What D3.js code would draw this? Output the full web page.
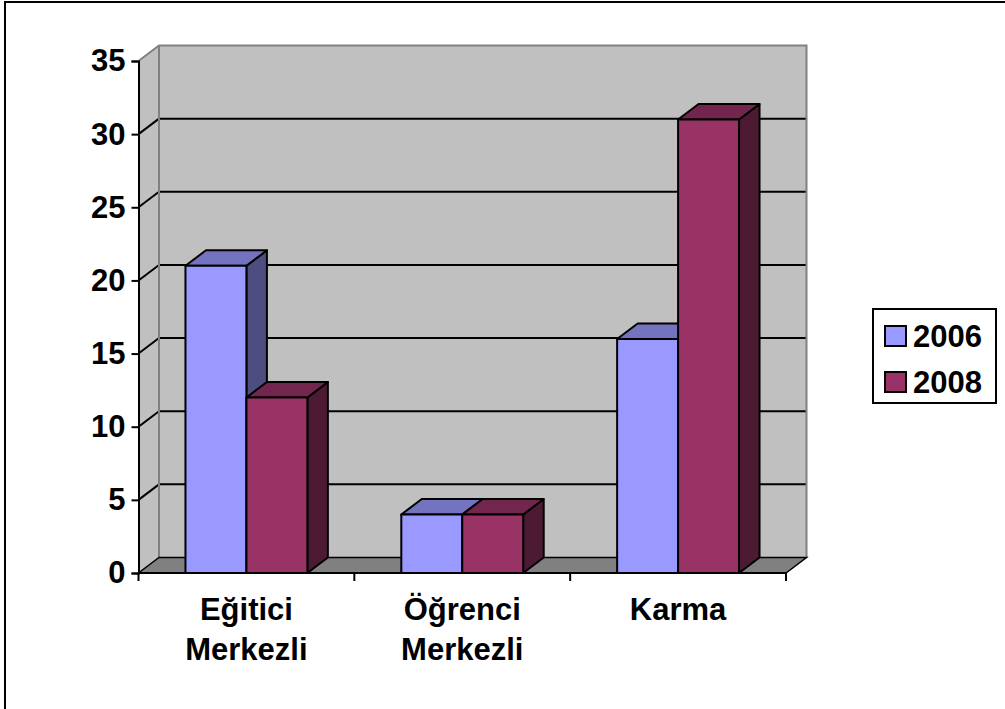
<!DOCTYPE html>
<html>
<head>
<meta charset="utf-8">
<script src="https://cdn.jsdelivr.net/npm/d3@7"></script>
<style>
    body { margin: 0; background: #fff; }
    text { font-family: "Liberation Sans", Arial, sans-serif; font-weight: bold; fill: #000; }
</style>
</head>
<body>
<svg id="chart" width="1005" height="709"></svg>
<script>
//  data
const categories = ["Eğitici Merkezli", "Öğrenci Merkezli", "Karma"];
const seriesNames = ["2006", "2008"];
const values2006 = [21, 4, 16];
const values2008 = [12, 4, 31];
const yTicks = [0, 5, 10, 15, 20, 25, 30, 35];

const seriesValues = [values2006, values2008];
const seriesColors = [
    { front: "#9999ff", top: "#7373bf", side: "#4d4d80" },
    { front: "#993366", top: "#73264d", side: "#4d1a33" }
];

const svg = d3.select("#chart");
const fontSize = 31;

//  depth offset of the 3d box
const DX = 20.5, DY = 15.5;
const plotLeft = 138.5, plotRight = 786, plotBottom = 573, plotTop = 61;

const x0 = d3.scaleBand().domain(categories).range([plotLeft, plotRight]);
const gap = x0.bandwidth() * 0.2176;
const x1 = d3.scaleBand().domain(seriesNames).range([gap, x0.bandwidth() - gap]);
const y = d3.scaleLinear().domain([0, 35]).range([plotBottom, plotTop]);

const pts = arr => arr.map(p => p.join(",")).join(" ");

//  outer frame
svg.append("rect").attr("x", 5).attr("y", 2).attr("width", 1010).attr("height", 720)
    .attr("fill", "none").attr("stroke", "#000").attr("stroke-width", 2);

//  walls
svg.append("polygon")
    .attr("points", pts([[plotLeft + DX, y(35) - DY], [plotRight + DX, y(35) - DY], [plotRight + DX, y(0) - DY], [plotLeft + DX, y(0) - DY]]))
    .attr("fill", "#c0c0c0");
svg.append("polygon")
    .attr("points", pts([[plotLeft, y(35)], [plotLeft + DX, y(35) - DY], [plotLeft + DX, y(0) - DY], [plotLeft, y(0)]]))
    .attr("fill", "#c0c0c0");

//  gridlines on the walls
const grid = svg.append("g");
yTicks.filter(v => v > 0 && v < 35).forEach(v => {
    grid.append("line").attr("x1", plotLeft + DX).attr("x2", plotRight + DX)
        .attr("y1", y(v) - DY).attr("y2", y(v) - DY)
        .attr("stroke", "#000").attr("stroke-width", 2);
    grid.append("line").attr("x1", plotLeft).attr("x2", plotLeft + DX)
        .attr("y1", y(v)).attr("y2", y(v) - DY)
        .attr("stroke", "#000").attr("stroke-width", 2);
});

//  wall edges
svg.append("polyline")
    .attr("points", pts([[plotLeft, y(35)], [plotLeft + DX, y(35) - DY], [plotRight + DX, y(35) - DY], [plotRight + DX, y(0) - DY]]))
    .attr("fill", "none").attr("stroke", "#808080").attr("stroke-width", 2);
svg.append("line").attr("x1", plotLeft + DX).attr("x2", plotLeft + DX)
    .attr("y1", y(35) - DY).attr("y2", y(0) - DY)
    .attr("stroke", "#808080").attr("stroke-width", 2);

//  floor
svg.append("polygon")
    .attr("points", pts([[plotLeft, y(0)], [plotRight, y(0)], [plotRight + DX, y(0) - DY], [plotLeft + DX, y(0) - DY]]))
    .attr("fill", "#808080").attr("stroke", "#000").attr("stroke-width", 1.5);

//  bars, left to right
const bars = svg.append("g");
categories.forEach((c, ci) => {
    seriesNames.forEach((s, si) => {
        const v = seriesValues[si][ci];
        const xa = x0(c) + x1(s), xb = xa + x1.bandwidth();
        const ya = y(v), yb = y(0);
        const col = seriesColors[si];
        const g = bars.append("g").attr("stroke", "#000").attr("stroke-width", 2).attr("stroke-linejoin", "round");
        g.append("polygon").attr("points", pts([[xb, ya], [xb + DX, ya - DY], [xb + DX, yb - DY], [xb, yb]]))
            .attr("fill", col.side);
        g.append("polygon").attr("points", pts([[xa, ya], [xa + DX, ya - DY], [xb + DX, ya - DY], [xb, ya]]))
            .attr("fill", col.top);
        g.append("rect").attr("x", xa).attr("y", ya).attr("width", xb - xa).attr("height", yb - ya)
            .attr("fill", col.front);
    });
});

//  value axis
const yAxis = svg.append("g").attr("transform", `translate(${plotLeft},0)`)
    .call(d3.axisLeft(y).tickValues(yTicks).tickSize(7).tickPadding(6));
yAxis.select(".domain").attr("stroke", "#000").attr("stroke-width", 2);
yAxis.selectAll(".tick line").attr("stroke", "#000").attr("stroke-width", 2);
yAxis.selectAll(".tick text").attr("font-size", fontSize).attr("font-family", null).attr("fill", "#000");

//  category axis
svg.append("line").attr("x1", plotLeft).attr("x2", plotRight).attr("y1", plotBottom).attr("y2", plotBottom)
    .attr("stroke", "#000").attr("stroke-width", 2);
categories.concat([null]).forEach((c, i) => {
    const xt = plotLeft + i * x0.step();
    svg.append("line").attr("x1", xt).attr("x2", xt).attr("y1", plotBottom).attr("y2", plotBottom + 8)
        .attr("stroke", "#000").attr("stroke-width", 2);
});
categories.forEach(c => {
    const t = svg.append("text").attr("text-anchor", "middle").attr("font-size", fontSize)
        .attr("x", x0(c) + x0.bandwidth() / 2).attr("y", 620);
    c.split(" ").forEach((w, i) => {
        t.append("tspan").attr("x", x0(c) + x0.bandwidth() / 2).attr("y", 620 + i * 40).text(w);
    });
});

//  legend
const legend = svg.append("g").attr("transform", "translate(873,309)");
legend.append("rect").attr("width", 123).attr("height", 94)
    .attr("fill", "#fff").attr("stroke", "#000").attr("stroke-width", 2);
seriesNames.forEach((s, i) => {
    legend.append("rect").attr("x", 12).attr("y", 17 + i * 46).attr("width", 21).attr("height", 20)
        .attr("fill", seriesColors[i].front).attr("stroke", "#000").attr("stroke-width", 2);
    legend.append("text").attr("x", 40).attr("y", 38 + i * 46).attr("font-size", fontSize).text(s);
});
</script>
</body>
</html>
